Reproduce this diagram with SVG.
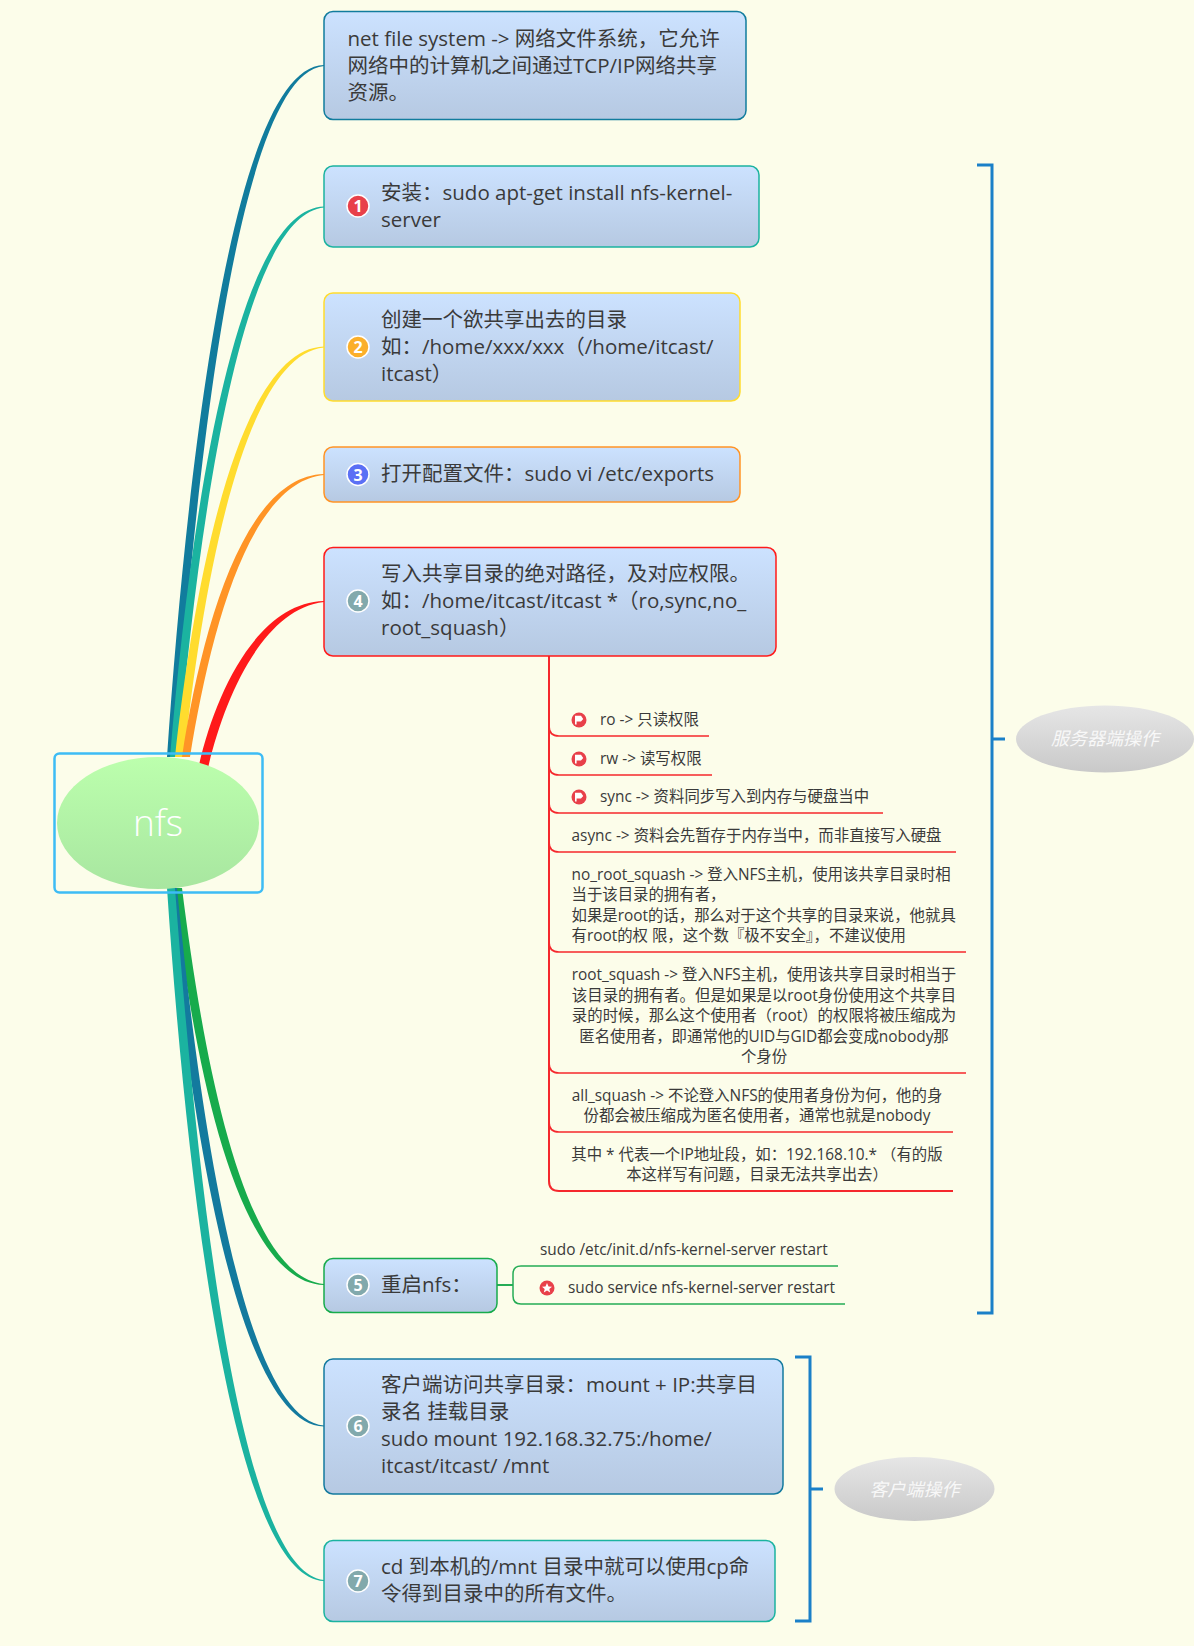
<svg xmlns="http://www.w3.org/2000/svg" width="1194" height="1646" viewBox="0 0 1194 1646">
<style>
text{font-family:"Open Sans","Noto Sans CJK SC","Noto Sans",sans-serif;fill:#3a3a3a}
.m{font-size:20.500px}
.s{font-size:15.400px}
.c{text-anchor:middle}
.box{stroke-width:1.5}
.lab{font-size:18px;font-style:italic;fill:#f8f8f8;text-anchor:middle}
.num{font-size:16px;font-weight:700;fill:#fff;text-anchor:middle}
.badge{stroke:#fff;stroke-width:1.5}
.br{fill:none;stroke:#1a80c8;stroke-width:3}
.red{fill:none;stroke:#f5282d;stroke-width:1.7}
.grn{fill:none;stroke:#25ac55;stroke-width:1.5}
.ic{fill:#e8404a}
</style>
<defs>
<linearGradient id="gb" x1="0" y1="0" x2="0" y2="1"><stop offset="0" stop-color="#cce2ff"/><stop offset="1" stop-color="#b6c9e2"/></linearGradient>
<linearGradient id="gg" x1="0" y1="0" x2="0" y2="1"><stop offset="0" stop-color="#bcffad"/><stop offset="1" stop-color="#a8e6a0"/></linearGradient>
<linearGradient id="gs" x1="0" y1="0" x2="0" y2="1"><stop offset="0" stop-color="#e6e6e6"/><stop offset="1" stop-color="#c9c9c9"/></linearGradient>
<g id="flag"><circle class="ic" r="7.500"/><path d="M-4 -4.200H2L4.200 -1L2 1.600H-2.400V4.600H-4Z" fill="#fff"/></g>
</defs>
<rect width="1194" height="1646" fill="#fcfdea"/>
<g id="connectors">
<path d="M167 757C187.500 460 233 67 324 65L324 66C239 73 196.500 460 175 757Z" fill="#117c9d"/>
<path d="M170 757C190 521 235 209 324 206.500L324 207.500C241 215 199 521 178 757Z" fill="#1bb3a0"/>
<path d="M175 757C194.500 581 238 349 324 346.500L324 347.500C244 355 203.500 581 184 757Z" fill="#ffdc2e"/>
<path d="M182 757C200.500 636 242 476 324 474L324 475C248 482 209.500 636 190 757Z" fill="#ff9426"/>
<path d="M199 765C215.500 693 257 603 324 601L324 602C263 609 224.500 697 208 768Z" fill="#ff1a1a"/>
<path d="M174 888C193 1060 237 1283 324 1285L324 1284C243 1277 203 1056 182 888Z" fill="#17ab4c"/>
<path d="M168 888C190.500 1121 237 1424 324 1426.500L324 1425.500C243 1418 199.500 1117 177 888Z" fill="#137a9e"/>
<path d="M167 888C187 1188 233 1578 324 1581L324 1580C239 1572 197 1184 175 888Z" fill="#1bb3a0"/>
<g class="red">
<path d="M549 656V1181Q549 1191 559 1191H953" stroke-width="2"/>
<path d="M549 726Q549 736 559 736H709"/>
<path d="M549 765Q549 775 559 775H712"/>
<path d="M549 803Q549 813 559 813H883"/>
<path d="M549 842Q549 852 559 852H956"/>
<path d="M549 942Q549 952 559 952H966"/>
<path d="M549 1063Q549 1073 559 1073H966"/>
<path d="M549 1122Q549 1132 559 1132H953"/>
</g>
<g class="grn">
<path d="M497 1285H513" stroke-width="2"/>
<path d="M513 1285V1274Q513 1266 521 1266H838"/>
<path d="M513 1285V1296Q513 1304 521 1304H845"/>
</g>
</g>
<g id="server-bracket"><path class="br" d="M977 165H992V1313H977M992 739H1005"/></g>
<g id="client-bracket"><path class="br" d="M795 1357H810V1621H795M810 1489H823"/></g>
<g id="root"><rect x="54.500" y="753.500" width="208" height="139" rx="5" fill="none" stroke="#3dbcf5" stroke-width="2.500"/><ellipse cx="158" cy="823" rx="101" ry="66" fill="url(#gg)"/><text x="158" y="836" class="c" style="font-size:37px;font-weight:300;fill:#fff">nfs</text></g>
<g id="n0"><rect class="box" x="324" y="11.500" width="422" height="108" rx="9" fill="url(#gb)" stroke="#117c9d"/><text class="m" x="347.500" y="46">net file system -&gt; 网络文件系统，它允许<tspan x="347.500" dy="27">网络中的计算机之间通过TCP/IP网络共享</tspan><tspan x="347.500" dy="27">资源。</tspan></text></g>
<g id="n1"><rect class="box" x="324" y="166" width="435" height="81" rx="9" fill="url(#gb)" stroke="#1bb3a0"/><circle class="badge" cx="358" cy="206" r="11" fill="#e8404a"/><text class="num" x="358" y="212">1</text><text class="m" x="381" y="200">安装：sudo apt-get install nfs-kernel-<tspan x="381" dy="27">server</tspan></text></g>
<g id="n2"><rect class="box" x="324" y="293" width="416" height="108" rx="9" fill="url(#gb)" stroke="#ffdc2e"/><circle class="badge" cx="358" cy="347" r="11" fill="#fbaf2a"/><text class="num" x="358" y="353">2</text><text class="m" x="381" y="327">创建一个欲共享出去的目录<tspan x="381" dy="27">如：/home/xxx/xxx（/home/itcast/</tspan><tspan x="381" dy="27">itcast）</tspan></text></g>
<g id="n3"><rect class="box" x="324" y="447" width="416" height="55" rx="9" fill="url(#gb)" stroke="#ff9426"/><circle class="badge" cx="358" cy="474.500" r="11" fill="#5b70f5"/><text class="num" x="358" y="480.500">3</text><text class="m" x="381" y="481">打开配置文件：sudo vi /etc/exports</text></g>
<g id="n4"><rect class="box" x="324" y="547.500" width="452" height="108.500" rx="9" fill="url(#gb)" stroke="#ff1a1a"/><circle class="badge" cx="358" cy="601" r="11" fill="#82a9ac"/><text class="num" x="358" y="607">4</text><text class="m" x="381" y="581">写入共享目录的绝对路径，及对应权限。<tspan x="381" dy="27">如：/home/itcast/itcast *（ro,sync,no_</tspan><tspan x="381" dy="27">root_squash）</tspan></text></g>
<g id="a1"><use href="#flag" x="579" y="720"/><text class="s" x="600" y="725">ro -&gt; 只读权限</text></g>
<g id="a2"><use href="#flag" x="579" y="759"/><text class="s" x="600" y="764">rw -&gt; 读写权限</text></g>
<g id="a3"><use href="#flag" x="579" y="797"/><text class="s" x="600" y="802">sync -&gt; 资料同步写入到内存与硬盘当中</text></g>
<g id="a4"><text class="s" x="571.500" y="841">async -&gt; 资料会先暂存于内存当中，而非直接写入硬盘</text></g>
<g id="a5"><text class="s" x="571.500" y="880">no_root_squash -&gt; 登入NFS主机，使用该共享目录时相<tspan x="571.500" dy="20.300">当于该目录的拥有者，</tspan><tspan x="571.500" dy="20.300">如果是root的话，那么对于这个共享的目录来说，他就具</tspan><tspan x="571.500" dy="20.300">有root的权 限，这个数『极不安全』，不建议使用</tspan></text></g>
<g id="a6"><text class="s c" y="980"><tspan x="764" dy="0">root_squash -&gt; 登入NFS主机，使用该共享目录时相当于</tspan><tspan x="764" dy="20.500">该目录的拥有者。但是如果是以root身份使用这个共享目</tspan><tspan x="764" dy="20.500">录的时候，那么这个使用者（root）的权限将被压缩成为</tspan><tspan x="764" dy="20.500">匿名使用者，即通常他的UID与GID都会变成nobody那</tspan><tspan x="764" dy="20.500">个身份</tspan></text></g>
<g id="a7"><text class="s c" y="1101"><tspan x="757" dy="0">all_squash -&gt; 不论登入NFS的使用者身份为何，他的身</tspan><tspan x="757" dy="20.300">份都会被压缩成为匿名使用者，通常也就是nobody</tspan></text></g>
<g id="a8"><text class="s c" y="1160"><tspan x="757" dy="0">其中 * 代表一个IP地址段，如：192.168.10.* （有的版</tspan><tspan x="757" dy="20.300">本这样写有问题，目录无法共享出去）</tspan></text></g>
<g id="n5"><rect class="box" x="324" y="1258.500" width="173" height="54" rx="9" fill="url(#gb)" stroke="#17ab4c"/><circle class="badge" cx="358" cy="1285" r="11" fill="#82a9ac"/><text class="num" x="358" y="1291">5</text><text class="m" x="381" y="1292">重启nfs：</text></g>
<g id="b1"><text class="s" x="540" y="1255">sudo /etc/init.d/nfs-kernel-server restart</text></g>
<g id="b2"><circle class="ic" cx="547" cy="1288" r="7.500"/><path d="M547 1283L548.500 1286.500L552 1286.800L549.300 1289L550.200 1292.500L547 1290.600L543.800 1292.500L544.700 1289L542 1286.800L545.500 1286.500Z" fill="#fff"/><text class="s" x="568" y="1293">sudo service nfs-kernel-server restart</text></g>
<g id="n6"><rect class="box" x="324" y="1359" width="459" height="135" rx="9" fill="url(#gb)" stroke="#137a9e"/><circle class="badge" cx="358" cy="1426" r="11" fill="#82a9ac"/><text class="num" x="358" y="1432">6</text><text class="m" x="381" y="1392">客户端访问共享目录：mount + IP:共享目<tspan x="381" dy="27">录名 挂载目录</tspan><tspan x="381" dy="27">sudo mount 192.168.32.75:/home/</tspan><tspan x="381" dy="27">itcast/itcast/ /mnt</tspan></text></g>
<g id="n7"><rect class="box" x="324" y="1540.500" width="451" height="81" rx="9" fill="url(#gb)" stroke="#1bb3a0"/><circle class="badge" cx="358" cy="1581" r="11" fill="#82a9ac"/><text class="num" x="358" y="1587">7</text><text class="m" x="381" y="1574">cd 到本机的/mnt 目录中就可以使用cp命<tspan x="381" dy="27">令得到目录中的所有文件。</tspan></text></g>
<g id="label-server"><ellipse cx="1105" cy="739" rx="89" ry="33.500" fill="url(#gs)"/><text class="lab" x="1105" y="745">服务器端操作</text></g>
<g id="label-client"><ellipse cx="914.500" cy="1489" rx="80" ry="32" fill="url(#gs)"/><text class="lab" x="914.500" y="1496">客户端操作</text></g>
</svg>
